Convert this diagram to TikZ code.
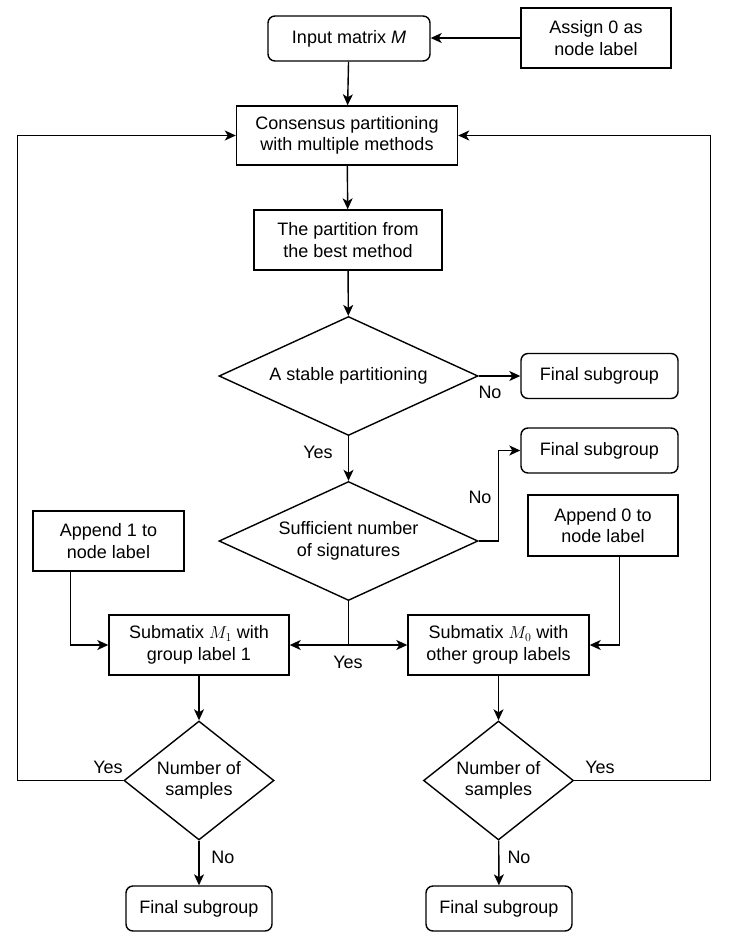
\documentclass[tikz,border=0pt]{standalone}
\usepackage{fontspec}
\setmainfont{Liberation Sans}
\usetikzlibrary{shapes.geometric,arrows.meta}
\begin{document}
\begin{tikzpicture}[x=1pt,y=-1pt,
  every node/.style={font=\fontsize{18}{21.5}\selectfont, align=center, inner sep=0pt},
  box/.style={draw, line width=1.4pt, rectangle, minimum width=#1},
  rbox/.style={draw, line width=1.4pt, rectangle, rounded corners=7pt, minimum width=#1, minimum height=45pt},
  decision/.style 2 args={draw, line width=1.4pt, diamond, shape aspect=#2, minimum width=#1, minimum height=119pt},
  arr/.style={line width=1.4pt, -{Stealth[length=11pt,width=10pt,inset=3pt]}},
  lbl/.style={font=\fontsize{18}{21.5}\selectfont}
]
\useasboundingbox (0,0) rectangle (728,936);

% top of the flow
\node[rbox=162pt] (input) at (349,38.5) {Input matrix \textit{M}};
\node[box=150pt, minimum height=60pt] (assign) at (596,38) {Assign 0 as\\node label};
\node[box=221pt, minimum height=59pt] (cons) at (347,135.5) {Consensus partitioning\\with multiple methods};
\node[box=188pt, minimum height=60pt] (part) at (348,240) {The partition from\\the best method};

% decisions on the partition
\node[decision={259pt}{2.176}] (d1) at (348.5,376) {A stable partitioning};
\node[rbox=157pt] (fin1) at (599.5,376) {Final subgroup};
\node[rbox=157pt] (fin2) at (599.5,450.5) {Final subgroup};
\node[decision={259pt}{2.176}] (d2) at (348.5,541) {Sufficient number\\of signatures};

% the two sub-matrices
\node[box=151pt, minimum height=60pt] (app1) at (108.5,541) {Append 1 to\\node label};
\node[box=150pt, minimum height=61pt] (app0) at (603,525.5) {Append 0 to\\node label};
\node[box=180pt, minimum height=60pt] (m1) at (199,645) {Submatix $M_1$ with\\group label 1};
\node[box=181pt, minimum height=60pt] (m0) at (498.5,645) {Submatix $M_0$ with\\other group labels};

% sample-size checks
\node[decision={150pt}{1.261}] (d3) at (199,780.5) {Number of\\samples};
\node[decision={150pt}{1.261}] (d4) at (498.5,780.5) {Number of\\samples};
\node[rbox=146pt] (fin3) at (199,908.5) {Final subgroup};
\node[rbox=146pt] (fin4) at (499,908.5) {Final subgroup};

% connectors
\draw[arr] (assign.west) -- (assign.west -| input.east);
\draw[arr] (input) -- (cons);
\draw[arr] (cons) -- (part);
\draw[arr] (part) -- (d1);
\draw[arr] (d1.east) -- (d1.east -| fin1.west);
\draw[arr] (d1) -- (d2);
\draw[arr] (d2.east) -- ++(20,0) |- (fin2.west);
\draw[arr] (d2.south) |- (m1.east);
\draw[arr] (d2.south) |- (m0.west);
\draw[arr] ([xshift=38pt]app1.south west) |- (m1.west);
\draw[arr] ([xshift=-59pt]app0.south east) |- (m0.east);
\draw[arr] (m1) -- (d3);
\draw[arr] (m0) -- (d4);
\draw[arr] (d3) -- (fin3);
\draw[arr] (d4) -- (fin4);
\draw[arr] (d3.west) -- ++(-106,0) |- (cons.west);
\draw[arr] (d4.east) -- ++(136,0) |- (cons.east);

% branch labels
\node[lbl] (no1) at (490,392) {No};
\node[lbl] (yes1) at (318,452) {Yes};
\node[lbl] (no2) at (480,497) {No};
\node[lbl] (yes2) at (348,662) {Yes};
\node[lbl] (yes3) at (108,767) {Yes};
\node[lbl] (yes4) at (600,767) {Yes};
\node[lbl] (no3) at (223,857) {No};
\node[lbl] (no4) at (519,857) {No};
\end{tikzpicture}
\end{document}
